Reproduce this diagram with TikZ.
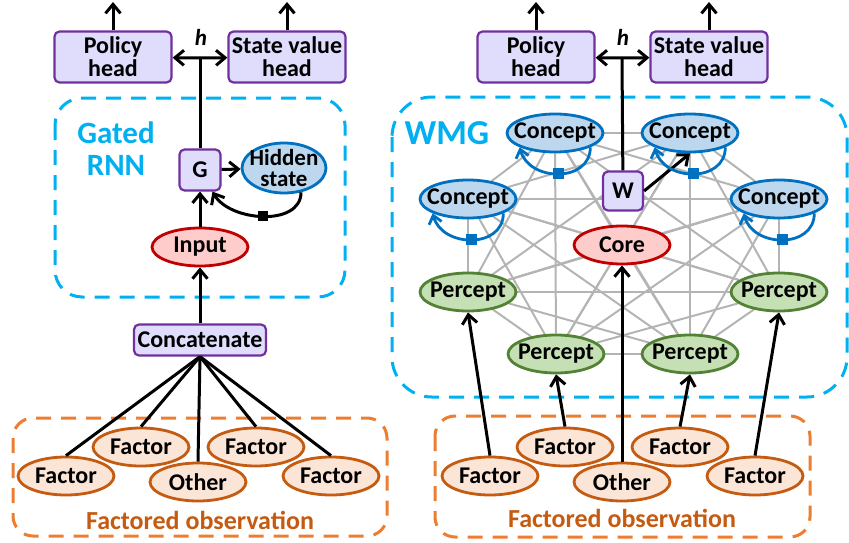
\documentclass[tikz,border=0pt]{standalone}
\usepackage{fontspec}
\setmainfont{Carlito}
\usetikzlibrary{shapes.geometric,arrows.meta,backgrounds}
\definecolor{boxfill}{HTML}{DFDDFB}
\definecolor{boxline}{HTML}{7030A0}
\definecolor{cyanline}{HTML}{00B0F0}
\definecolor{confill}{HTML}{BDD7EE}
\definecolor{conline}{HTML}{0070C0}
\definecolor{corefill}{HTML}{FFCCCC}
\definecolor{coreline}{HTML}{C00000}
\definecolor{perfill}{HTML}{C5E0B4}
\definecolor{perline}{HTML}{538135}
\definecolor{facfill}{HTML}{FBE5D6}
\definecolor{facline}{HTML}{C55A11}
\definecolor{zoneorange}{HTML}{ED7D31}
\definecolor{meshgray}{HTML}{B4B4B4}
\begin{document}
\begin{tikzpicture}[x=1pt, y=1pt,
    font=\fontsize{24}{23}\selectfont\bfseries,
    blk/.style={line width=3pt},
    arr/.style={blk, -{Straight Barb[length=9pt,width=15pt]}},
    headbox/.style={draw=boxline, fill=boxfill, line width=2.2pt, rounded corners=5pt,
      align=center, inner sep=0pt, minimum width=117pt, minimum height=51pt},
    gate/.style={headbox, minimum width=41pt, minimum height=41pt},
    ell/.style={ellipse, line width=2.8pt, inner xsep=-7pt, inner ysep=0pt,
      minimum width=96pt, minimum height=38pt},
    concept/.style={ell, draw=conline, fill=confill},
    percept/.style={ell, draw=perline, fill=perfill},
    corenode/.style={ell, draw=coreline, fill=corefill},
    factor/.style={ell, draw=facline, fill=facfill},
    zone/.style={dash pattern=on 15pt off 10pt, line width=3pt},
    mesh/.style={draw=meshgray, line width=2pt},
    sq/.style={rectangle, inner sep=0pt, minimum size=11pt},
    selfloop/.style={line width=2.8pt, draw=conline,
      -{Straight Barb[length=8pt,width=13pt]}, looseness=1.3},
  ]
  \useasboundingbox (0,0) rectangle (849,-543);
  % zones
  \draw[zone, cyanline, rounded corners=27pt] (55,-98) rectangle (345,-297);
  \draw[zone, cyanline, rounded corners=40pt] (392,-97) rectangle (847,-397);
  \draw[zone, zoneorange, rounded corners=20pt] (13,-418) rectangle (387,-536);
  \draw[zone, zoneorange, rounded corners=20pt] (435,-416) rectangle (810,-537);
  \node[cyanline, font=\fontsize{31}{32}\selectfont\bfseries, align=center] (rnntext) at (116,-149) {Gated\\RNN};
  \node[cyanline, font=\fontsize{35}{35}\selectfont\bfseries] (wmgtext) at (447,-133) {WMG};
  \node[facline, font=\fontsize{26}{26}\selectfont\bfseries] (obsL) at (200,-520) {Factored observation};
  \node[facline, font=\fontsize{26}{26}\selectfont\bfseries] (obsR) at (622,-518) {Factored observation};

  % left: gated rnn
  \node[headbox] (pol) at (113,-57) {Policy\\head};
  \node[headbox] (sv) at (287,-57) {State value\\head};
  \node[font=\fontsize{23}{23}\selectfont\bfseries\itshape] (hlab) at (201,-37) {h};
  \coordinate (hL) at (200,-58);
  \coordinate (polUp) at (113,-2);
  \coordinate (svUp) at (287,-2);
  \node[gate] (G) at (200,-170) {G};
  \node[concept, minimum width=84pt, minimum height=50pt, inner ysep=-5pt, align=center,
    font=\fontsize{23}{21}\selectfont\bfseries] (hid) at (284,-168) {Hidden\\state};
  \node[corenode] (inp) at (200,-247) {Input};
  \node[headbox, minimum width=132pt, minimum height=31pt] (cat) at (200,-340) {Concatenate};
  \node[factor] (fl1) at (66,-476) {Factor};
  \node[factor] (fl2) at (141,-447) {Factor};
  \node[factor] (fl3) at (198,-482) {Other};
  \node[factor] (fl4) at (256,-447) {Factor};
  \node[factor] (fl5) at (331,-476) {Factor};

  % right: wmg
  \node[headbox] (pol2) at (536,-57) {Policy\\head};
  \node[headbox] (sv2) at (709,-57) {State value\\head};
  \node[font=\fontsize{23}{23}\selectfont\bfseries\itshape] (hlab2) at (623,-37) {h};
  \coordinate (hR) at (622,-58);
  \coordinate (pol2Up) at (536,-2);
  \coordinate (sv2Up) at (709,-2);
  \node[concept] (c1) at (555,-133) {Concept};
  \node[concept] (c2) at (690,-133) {Concept};
  \node[concept] (c3) at (468,-199) {Concept};
  \node[concept] (c4) at (779,-199) {Concept};
  \node[gate, minimum width=40pt, minimum height=39pt] (W) at (623,-191) {W};
  \node[corenode] (core) at (622,-245) {Core};
  \node[percept] (p1) at (468,-292) {Percept};
  \node[percept] (p2) at (556,-354) {Percept};
  \node[percept] (p3) at (690,-354) {Percept};
  \node[percept] (p4) at (779,-292) {Percept};
  \node[factor] (fr1) at (490,-476) {Factor};
  \node[factor] (fr2) at (565,-447) {Factor};
  \node[factor] (fr3) at (622,-482) {Other};
  \node[factor] (fr4) at (680,-447) {Factor};
  \node[factor] (fr5) at (755,-476) {Factor};

  % grey mesh behind the nodes
  \begin{pgfonlayer}{background}
    \foreach \a [count=\i] in {c1,c2,c3,c4,p1,p2,p3,p4,core}
      \foreach \b [count=\j] in {c1,c2,c3,c4,p1,p2,p3,p4,core}
        {\ifnum\j>\i \draw[mesh] (\a) -- (\b); \fi}
  \end{pgfonlayer}

  % draw lines
  \draw[arr] (cat) -- (inp);
  \draw[arr] (inp) -- (G);
  \draw[arr] (G) -- (hid);
  \draw[arr] (hid.-55)
    to[out=-90, in=-60] node[sq, fill=black, minimum size=10pt]{} (G.-60);
  \draw[blk] (G) -- (hL);
  \draw[arr] (hL) -- (pol);
  \draw[arr] (hL) -- (sv);
  \draw[arr] (pol) -- (polUp);
  \draw[arr] (sv) -- (svUp);
  \foreach \f in {fl1,fl2,fl3,fl4,fl5}
    \draw[blk] (cat.south) -- (\f.north);

  \draw[blk] (W) -- (hR);
  \draw[arr] (hR) -- (pol2);
  \draw[arr] (hR) -- (sv2);
  \draw[arr] (pol2) -- (pol2Up);
  \draw[arr] (sv2) -- (sv2Up);
  \draw[arr] (W.east) -- (c2.south);
  \foreach \c in {c1,c2,c3,c4}
    \draw[selfloop] (\c.-22) to[out=-90, in=-75] node[sq, fill=conline]{} (\c.-158);
  \foreach \f/\t in {fr1/p1,fr2/p2,fr3/core,fr4/p3,fr5/p4}
    \draw[arr] (\f.north) -- (\t.south);
\end{tikzpicture}
\end{document}
